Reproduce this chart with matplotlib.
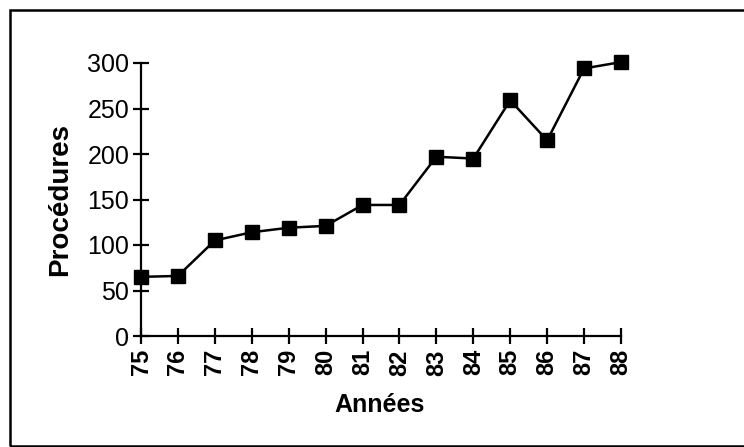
import matplotlib
matplotlib.use("Agg")
import matplotlib.pyplot as plt
from matplotlib.patches import Rectangle

years = [75, 76, 77, 78, 79, 80, 81, 82, 83, 84, 85, 86, 87, 88]
procedures = [65, 66, 105, 114, 119, 121, 144, 144, 197, 195, 259, 215, 294, 301]
y_ticks = [0, 50, 100, 150, 200, 250, 300]

W, H = 744, 447
fig = plt.figure(figsize=(W / 100, H / 100), dpi=100)
plt.rcParams['font.family'] = ['Liberation Sans', 'DejaVu Sans']

# outer border
fig.patches.append(Rectangle((10 / W, 1 / H), (W + 5) / W, (H - 11) / H,
                             transform=fig.transFigure, fill=False,
                             edgecolor='black', linewidth=1.8))

ax = fig.add_axes([141 / W, 1 - 336 / H, (621 - 141) / W, (336 - 63) / H])
ax.plot(years, procedures, color='black', linewidth=1.8, marker='s',
        markersize=9.5, markerfacecolor='black', markeredgecolor='black',
        clip_on=False, zorder=3)

ax.set_xlim(75, 88)
ax.set_ylim(0, 300)
ax.set_xticks(years)
ax.set_xticklabels([str(y) for y in years], rotation=90, fontsize=17,
                   fontweight='bold')
ax.set_yticks(y_ticks)
ax.set_yticklabels([str(v) for v in y_ticks], fontsize=18)
for s in ['top', 'right']:
    ax.spines[s].set_visible(False)
for s in ['left', 'bottom']:
    ax.spines[s].set_linewidth(1.6)
ax.tick_params(axis='both', direction='inout', length=11, width=1.6,
               colors='black')
ax.tick_params(axis='y', pad=3)
ax.tick_params(axis='x', pad=4)

fig.text(60 / W, 1 - 200 / H, 'Procédures', rotation=90, ha='center',
         va='center', fontsize=20, fontweight='bold')
fig.text(380 / W, 1 - 405 / H, 'Années', ha='center', va='center',
         fontsize=18, fontweight='bold')

fig.savefig('out.png', dpi=100, facecolor='white')
